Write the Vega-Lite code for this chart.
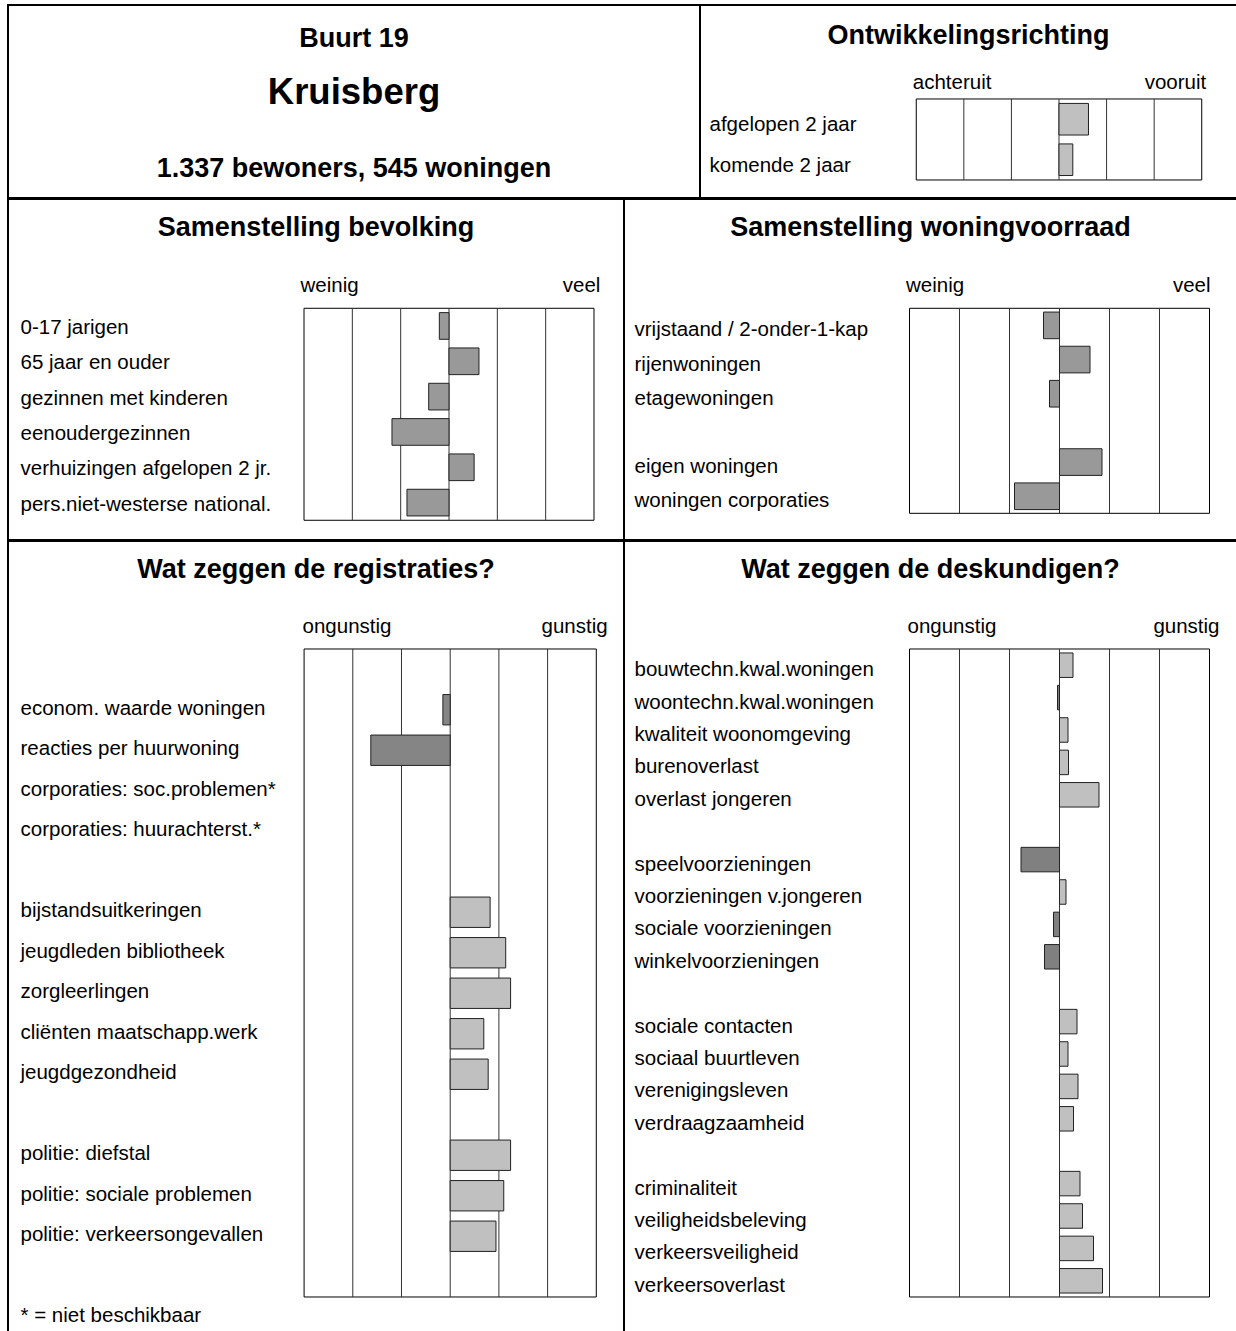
{
  "$schema": "https://vega.github.io/schema/vega-lite/v6.json",
  "padding": {"left": 7, "top": 4, "right": 0, "bottom": 0},
  "background": "white",
  "config": {
    "font": "Liberation Sans",
    "view": {"stroke": "#000", "strokeWidth": 2},
    "concat": {"spacing": 0},
    "title": {"font": "Liberation Sans", "fontSize": 27, "fontWeight": "bold", "color": "#000", "anchor": "middle", "frame": "group"},
    "axis": {"labelFont": "Liberation Sans", "labelFontSize": 20.5, "labelColor": "#000", "ticks": false, "tickSize": 0, "domain": false, "grid": false, "labelLimit": 0, "labelOverlap": false, "minExtent": 0, "title": null},
    "text": {"color": "#000", "font": "Liberation Sans"}
  },
  "datasets": {
    "kop": [
      {"regel": "buurt", "tekst": "Buurt 19"},
      {"regel": "naam", "tekst": "Kruisberg"},
      {"regel": "aantallen", "tekst": "1.337 bewoners, 545 woningen"}
    ],
    "kader": [{"van": -3, "tot": 3}],
    "grenzen": [{"grens": -2}, {"grens": -1}, {"grens": 0}, {"grens": 1}, {"grens": 2}],
    "ontwikkeling": [
      {"item": "afgelopen 2 jaar", "waarde": 0.62},
      {"item": "komende 2 jaar", "waarde": 0.29}
    ],
    "bevolking": [
      {"item": "0-17 jarigen", "waarde": -0.2},
      {"item": "65 jaar en ouder", "waarde": 0.62},
      {"item": "gezinnen met kinderen", "waarde": -0.42},
      {"item": "eenoudergezinnen", "waarde": -1.18},
      {"item": "verhuizingen afgelopen 2 jr.", "waarde": 0.52},
      {"item": "pers.niet-westerse national.", "waarde": -0.87}
    ],
    "woningvoorraad": [
      {"item": "vrijstaand / 2-onder-1-kap", "waarde": -0.32},
      {"item": "rijenwoningen", "waarde": 0.61},
      {"item": "etagewoningen", "waarde": -0.2},
      {"item": "eigen woningen", "waarde": 0.85},
      {"item": "woningen corporaties", "waarde": -0.9}
    ],
    "registraties": [
      {"item": "econom. waarde woningen", "waarde": -0.15},
      {"item": "reacties per huurwoning", "waarde": -1.63},
      {"item": "bijstandsuitkeringen", "waarde": 0.82},
      {"item": "jeugdleden bibliotheek", "waarde": 1.14},
      {"item": "zorgleerlingen", "waarde": 1.24},
      {"item": "cliënten maatschapp.werk", "waarde": 0.69},
      {"item": "jeugdgezondheid", "waarde": 0.78},
      {"item": "politie: diefstal", "waarde": 1.24},
      {"item": "politie: sociale problemen", "waarde": 1.1},
      {"item": "politie: verkeersongevallen", "waarde": 0.94}
    ],
    "deskundigen": [
      {"item": "bouwtechn.kwal.woningen", "waarde": 0.27},
      {"item": "woontechn.kwal.woningen", "waarde": -0.04},
      {"item": "kwaliteit woonomgeving", "waarde": 0.17},
      {"item": "burenoverlast", "waarde": 0.18},
      {"item": "overlast jongeren", "waarde": 0.79},
      {"item": "speelvoorzieningen", "waarde": -0.77},
      {"item": "voorzieningen v.jongeren", "waarde": 0.13},
      {"item": "sociale voorzieningen", "waarde": -0.12},
      {"item": "winkelvoorzieningen", "waarde": -0.3},
      {"item": "sociale contacten", "waarde": 0.35},
      {"item": "sociaal buurtleven", "waarde": 0.17},
      {"item": "verenigingsleven", "waarde": 0.37},
      {"item": "verdraagzaamheid", "waarde": 0.28},
      {"item": "criminaliteit", "waarde": 0.41},
      {"item": "veiligheidsbeleving", "waarde": 0.46},
      {"item": "verkeersveiligheid", "waarde": 0.68},
      {"item": "verkeersoverlast", "waarde": 0.86}
    ]
  },
  "vconcat": [
    {
      "hconcat": [
        {
          "width": 692, "height": 193,
          "data": {"name": "kop"},
          "encoding": {
            "y": {"field": "regel", "type": "nominal", "scale": {"type": "point", "domain": ["buurt", "naam", "aantallen"], "padding": 0.4846, "align": 0.671}, "axis": null},
            "text": {"field": "tekst", "type": "nominal"}
          },
          "layer": [
            {"transform": [{"filter": "datum.regel == 'buurt'"}], "mark": {"type": "text", "fontSize": 27, "fontWeight": "bold", "baseline": "alphabetic", "align": "center"}},
            {"transform": [{"filter": "datum.regel == 'naam'"}], "mark": {"type": "text", "fontSize": 36.5, "fontWeight": "bold", "baseline": "bottom", "align": "center"}},
            {"transform": [{"filter": "datum.regel == 'aantallen'"}], "mark": {"type": "text", "fontSize": 27, "fontWeight": "bold", "baseline": "alphabetic", "align": "center"}}
          ]
        },
        {
          "width": 537, "height": 193,
          "title": {"text": "Ontwikkelingsrichting", "offset": -45},
          "layer": [
            {
              "data": {"name": "kader"},
              "mark": {"type": "rect", "fillOpacity": 0, "stroke": "#000", "strokeWidth": 1},
              "encoding": {
                "x": {"field": "van", "type": "quantitative", "scale": {"domain": [-7.545, 3.741], "nice": false, "zero": false},
                  "axis": {"orient": "top", "offset": -94, "values": [-3, 3], "labelExpr": "datum.value < 0 ? 'achteruit' : 'vooruit'", "labelFlush": 300, "labelFlushOffset": 4, "labelPadding": 7}},
                "x2": {"field": "tot"},
                "y": {"datum": "afgelopen 2 jaar", "type": "nominal", "bandPosition": 0, "scale": {"type": "band", "domain": [" ", "afgelopen 2 jaar", "komende 2 jaar"], "paddingInner": 0, "paddingOuter": 0.8827, "align": 0.748},
                  "axis": {"orient": "left", "labelAlign": "left", "labelPadding": -9, "labelOffset": 6, "labelBaseline": "middle"}},
                "y2": {"datum": "komende 2 jaar", "bandPosition": 1}
              }
            },
            {
              "data": {"name": "grenzen"},
              "mark": {"type": "rule", "color": "#333", "strokeWidth": 1},
              "encoding": {
                "x": {"field": "grens", "type": "quantitative", "scale": {"domain": [-7.545, 3.741], "nice": false, "zero": false},
                  "axis": {"orient": "top", "offset": -94, "values": [-3, 3], "labelExpr": "datum.value < 0 ? 'achteruit' : 'vooruit'", "labelFlush": 300, "labelFlushOffset": 4, "labelPadding": 7}},
                "y": {"datum": "afgelopen 2 jaar", "type": "nominal", "bandPosition": 0, "scale": {"type": "band", "domain": [" ", "afgelopen 2 jaar", "komende 2 jaar"], "paddingInner": 0, "paddingOuter": 0.8827, "align": 0.748},
                  "axis": {"orient": "left", "labelAlign": "left", "labelPadding": -9, "labelOffset": 6, "labelBaseline": "middle"}},
                "y2": {"datum": "komende 2 jaar", "bandPosition": 1}
              }
            },
            {
              "data": {"name": "ontwikkeling"},
              "mark": {"type": "bar", "color": "#c0c0c0", "stroke": "#222", "strokeWidth": 1, "height": {"band": 0.78}},
              "encoding": {
                "x": {"field": "waarde", "type": "quantitative", "scale": {"domain": [-7.545, 3.741], "nice": false, "zero": false},
                  "axis": {"orient": "top", "offset": -94, "values": [-3, 3], "labelExpr": "datum.value < 0 ? 'achteruit' : 'vooruit'", "labelFlush": 300, "labelFlushOffset": 4, "labelPadding": 7}},
                "y": {"field": "item", "type": "nominal", "scale": {"type": "band", "domain": [" ", "afgelopen 2 jaar", "komende 2 jaar"], "paddingInner": 0, "paddingOuter": 0.8827, "align": 0.748},
                  "axis": {"orient": "left", "labelAlign": "left", "labelPadding": -9, "labelOffset": 6, "labelBaseline": "middle"}}
              }
            }
          ]
        }
      ],
      "spacing": 0, "bounds": "flush"
    },
    {
      "hconcat": [
        {
          "width": 616, "height": 341,
          "title": {"text": "Samenstelling bevolking", "offset": -43},
          "layer": [
            {
              "data": {"name": "kader"},
              "mark": {"type": "rect", "fillOpacity": 0, "stroke": "#000", "strokeWidth": 1},
              "encoding": {
                "x": {"field": "van", "type": "quantitative", "scale": {"domain": [-9.125, 3.621], "nice": false, "zero": false},
                  "axis": {"orient": "top", "offset": -109.3, "values": [-3, 3.04], "labelExpr": "datum.value < 0 ? 'weinig' : 'veel'", "labelFlush": 300, "labelFlushOffset": 4, "labelPadding": 13}},
                "x2": {"field": "tot"},
                "y": {"datum": "0-17 jarigen", "type": "nominal", "bandPosition": 0, "scale": {"type": "band", "domain": [" ", "  ", "0-17 jarigen", "65 jaar en ouder", "gezinnen met kinderen", "eenoudergezinnen", "verhuizingen afgelopen 2 jr.", "pers.niet-westerse national."], "paddingInner": 0, "paddingOuter": 0.826, "align": 0.662},
                  "axis": {"orient": "left", "labelAlign": "left", "labelPadding": -12, "labelOffset": 2, "labelBaseline": "middle"}},
                "y2": {"datum": "pers.niet-westerse national.", "bandPosition": 1}
              }
            },
            {
              "data": {"name": "grenzen"},
              "mark": {"type": "rule", "color": "#333", "strokeWidth": 1},
              "encoding": {
                "x": {"field": "grens", "type": "quantitative", "scale": {"domain": [-9.125, 3.621], "nice": false, "zero": false},
                  "axis": {"orient": "top", "offset": -109.3, "values": [-3, 3.04], "labelExpr": "datum.value < 0 ? 'weinig' : 'veel'", "labelFlush": 300, "labelFlushOffset": 4, "labelPadding": 13}},
                "y": {"datum": "0-17 jarigen", "type": "nominal", "bandPosition": 0, "scale": {"type": "band", "domain": [" ", "  ", "0-17 jarigen", "65 jaar en ouder", "gezinnen met kinderen", "eenoudergezinnen", "verhuizingen afgelopen 2 jr.", "pers.niet-westerse national."], "paddingInner": 0, "paddingOuter": 0.826, "align": 0.662},
                  "axis": {"orient": "left", "labelAlign": "left", "labelPadding": -12, "labelOffset": 2, "labelBaseline": "middle"}},
                "y2": {"datum": "pers.niet-westerse national.", "bandPosition": 1}
              }
            },
            {
              "data": {"name": "bevolking"},
              "mark": {"type": "bar", "color": "#999999", "stroke": "#222", "strokeWidth": 1, "height": {"band": 0.755}},
              "encoding": {
                "x": {"field": "waarde", "type": "quantitative", "scale": {"domain": [-9.125, 3.621], "nice": false, "zero": false},
                  "axis": {"orient": "top", "offset": -109.3, "values": [-3, 3.04], "labelExpr": "datum.value < 0 ? 'weinig' : 'veel'", "labelFlush": 300, "labelFlushOffset": 4, "labelPadding": 13}},
                "y": {"field": "item", "type": "nominal", "scale": {"type": "band", "domain": [" ", "  ", "0-17 jarigen", "65 jaar en ouder", "gezinnen met kinderen", "eenoudergezinnen", "verhuizingen afgelopen 2 jr.", "pers.niet-westerse national."], "paddingInner": 0, "paddingOuter": 0.826, "align": 0.662},
                  "axis": {"orient": "left", "labelAlign": "left", "labelPadding": -12, "labelOffset": 2, "labelBaseline": "middle"}}
              }
            }
          ]
        },
        {
          "width": 613, "height": 341,
          "title": {"text": "Samenstelling woningvoorraad", "offset": -43},
          "layer": [
            {
              "data": {"name": "kader"},
              "mark": {"type": "rect", "fillOpacity": 0, "stroke": "#000", "strokeWidth": 1},
              "encoding": {
                "x": {"field": "van", "type": "quantitative", "scale": {"domain": [-8.71, 3.55], "nice": false, "zero": false},
                  "axis": {"orient": "top", "offset": -109.3, "values": [-3, 2.93], "labelExpr": "datum.value < 0 ? 'weinig' : 'veel'", "labelFlush": 300, "labelFlushOffset": 4, "labelPadding": 13}},
                "x2": {"field": "tot"},
                "y": {"datum": "vrijstaand / 2-onder-1-kap", "type": "nominal", "bandPosition": 0, "scale": {"type": "band", "domain": ["  ", "   ", "vrijstaand / 2-onder-1-kap", "rijenwoningen", "etagewoningen", " ", "eigen woningen", "woningen corporaties"], "paddingInner": 0, "paddingOuter": 0.99, "align": 0.6056},
                  "axis": {"orient": "left", "labelAlign": "left", "labelPadding": -10, "labelOffset": 5, "labelBaseline": "middle"}},
                "y2": {"datum": "woningen corporaties", "bandPosition": 1}
              }
            },
            {
              "data": {"name": "grenzen"},
              "mark": {"type": "rule", "color": "#333", "strokeWidth": 1},
              "encoding": {
                "x": {"field": "grens", "type": "quantitative", "scale": {"domain": [-8.71, 3.55], "nice": false, "zero": false},
                  "axis": {"orient": "top", "offset": -109.3, "values": [-3, 2.93], "labelExpr": "datum.value < 0 ? 'weinig' : 'veel'", "labelFlush": 300, "labelFlushOffset": 4, "labelPadding": 13}},
                "y": {"datum": "vrijstaand / 2-onder-1-kap", "type": "nominal", "bandPosition": 0, "scale": {"type": "band", "domain": ["  ", "   ", "vrijstaand / 2-onder-1-kap", "rijenwoningen", "etagewoningen", " ", "eigen woningen", "woningen corporaties"], "paddingInner": 0, "paddingOuter": 0.99, "align": 0.6056},
                  "axis": {"orient": "left", "labelAlign": "left", "labelPadding": -10, "labelOffset": 5, "labelBaseline": "middle"}},
                "y2": {"datum": "woningen corporaties", "bandPosition": 1}
              }
            },
            {
              "data": {"name": "woningvoorraad"},
              "mark": {"type": "bar", "color": "#999999", "stroke": "#222", "strokeWidth": 1, "height": {"band": 0.78}},
              "encoding": {
                "x": {"field": "waarde", "type": "quantitative", "scale": {"domain": [-8.71, 3.55], "nice": false, "zero": false},
                  "axis": {"orient": "top", "offset": -109.3, "values": [-3, 2.93], "labelExpr": "datum.value < 0 ? 'weinig' : 'veel'", "labelFlush": 300, "labelFlushOffset": 4, "labelPadding": 13}},
                "y": {"field": "item", "type": "nominal", "scale": {"type": "band", "domain": ["  ", "   ", "vrijstaand / 2-onder-1-kap", "rijenwoningen", "etagewoningen", " ", "eigen woningen", "woningen corporaties"], "paddingInner": 0, "paddingOuter": 0.99, "align": 0.6056},
                  "axis": {"orient": "left", "labelAlign": "left", "labelPadding": -10, "labelOffset": 5, "labelBaseline": "middle"}}
              }
            }
          ]
        }
      ],
      "spacing": 0, "bounds": "flush"
    },
    {
      "hconcat": [
        {
          "width": 616, "height": 800,
          "title": {"text": "Wat zeggen de registraties?", "offset": -43},
          "layer": [
            {
              "data": {"name": "kader"},
              "mark": {"type": "rect", "fillOpacity": 0, "stroke": "#000", "strokeWidth": 1},
              "encoding": {
                "x": {"field": "van", "type": "quantitative", "scale": {"domain": [-9.08, 3.569], "nice": false, "zero": false},
                  "axis": {"orient": "top", "offset": -108, "values": [-2.96, 3.14], "labelExpr": "datum.value < 0 ? 'ongunstig' : 'gunstig'", "labelFlush": 300, "labelFlushOffset": 4, "labelPadding": 12.7}},
                "x2": {"field": "tot"},
                "y": {"datum": " ", "type": "nominal", "bandPosition": 0, "scale": {"type": "band", "domain": ["     ", "      ", " ", "econom. waarde woningen", "reacties per huurwoning", "corporaties: soc.problemen*", "corporaties: huurachterst.*", "  ", "bijstandsuitkeringen", "jeugdleden bibliotheek", "zorgleerlingen", "cliënten maatschapp.werk", "jeugdgezondheid", "   ", "politie: diefstal", "politie: sociale problemen", "politie: verkeersongevallen", "    ", "* = niet beschikbaar"], "paddingInner": 0, "paddingOuter": 0.3765, "align": 0.885},
                  "axis": {"orient": "left", "labelAlign": "left", "labelPadding": -12, "labelOffset": -1, "labelBaseline": "middle"}},
                "y2": {"datum": "    ", "bandPosition": 1}
              }
            },
            {
              "data": {"name": "grenzen"},
              "mark": {"type": "rule", "color": "#333", "strokeWidth": 1},
              "encoding": {
                "x": {"field": "grens", "type": "quantitative", "scale": {"domain": [-9.08, 3.569], "nice": false, "zero": false},
                  "axis": {"orient": "top", "offset": -108, "values": [-2.96, 3.14], "labelExpr": "datum.value < 0 ? 'ongunstig' : 'gunstig'", "labelFlush": 300, "labelFlushOffset": 4, "labelPadding": 12.7}},
                "y": {"datum": " ", "type": "nominal", "bandPosition": 0, "scale": {"type": "band", "domain": ["     ", "      ", " ", "econom. waarde woningen", "reacties per huurwoning", "corporaties: soc.problemen*", "corporaties: huurachterst.*", "  ", "bijstandsuitkeringen", "jeugdleden bibliotheek", "zorgleerlingen", "cliënten maatschapp.werk", "jeugdgezondheid", "   ", "politie: diefstal", "politie: sociale problemen", "politie: verkeersongevallen", "    ", "* = niet beschikbaar"], "paddingInner": 0, "paddingOuter": 0.3765, "align": 0.885},
                  "axis": {"orient": "left", "labelAlign": "left", "labelPadding": -12, "labelOffset": -1, "labelBaseline": "middle"}},
                "y2": {"datum": "    ", "bandPosition": 1}
              }
            },
            {
              "data": {"name": "registraties"},
              "mark": {"type": "bar", "stroke": "#222", "strokeWidth": 1, "height": {"band": 0.75}},
              "encoding": {
                "x": {"field": "waarde", "type": "quantitative", "scale": {"domain": [-9.08, 3.569], "nice": false, "zero": false},
                  "axis": {"orient": "top", "offset": -108, "values": [-2.96, 3.14], "labelExpr": "datum.value < 0 ? 'ongunstig' : 'gunstig'", "labelFlush": 300, "labelFlushOffset": 4, "labelPadding": 12.7}},
                "y": {"field": "item", "type": "nominal", "scale": {"type": "band", "domain": ["     ", "      ", " ", "econom. waarde woningen", "reacties per huurwoning", "corporaties: soc.problemen*", "corporaties: huurachterst.*", "  ", "bijstandsuitkeringen", "jeugdleden bibliotheek", "zorgleerlingen", "cliënten maatschapp.werk", "jeugdgezondheid", "   ", "politie: diefstal", "politie: sociale problemen", "politie: verkeersongevallen", "    ", "* = niet beschikbaar"], "paddingInner": 0, "paddingOuter": 0.3765, "align": 0.885},
                  "axis": {"orient": "left", "labelAlign": "left", "labelPadding": -12, "labelOffset": -1, "labelBaseline": "middle"}},
                "color": {"condition": {"test": "datum.waarde < 0", "value": "#858585"}, "value": "#c0c0c0"}
              }
            }
          ]
        },
        {
          "width": 613, "height": 800,
          "title": {"text": "Wat zeggen de deskundigen?", "offset": -43},
          "layer": [
            {
              "data": {"name": "kader"},
              "mark": {"type": "rect", "fillOpacity": 0, "stroke": "#000", "strokeWidth": 1},
              "encoding": {
                "x": {"field": "van", "type": "quantitative", "scale": {"domain": [-8.71, 3.55], "nice": false, "zero": false},
                  "axis": {"orient": "top", "offset": -108, "values": [-2.97, 3.11], "labelExpr": "datum.value < 0 ? 'ongunstig' : 'gunstig'", "labelFlush": 300, "labelFlushOffset": 4, "labelPadding": 12.7}},
                "x2": {"field": "tot"},
                "y": {"datum": "bouwtechn.kwal.woningen", "type": "nominal", "bandPosition": 0, "scale": {"type": "band", "domain": ["    ", "     ", "      ", "bouwtechn.kwal.woningen", "woontechn.kwal.woningen", "kwaliteit woonomgeving", "burenoverlast", "overlast jongeren", " ", "speelvoorzieningen", "voorzieningen v.jongeren", "sociale voorzieningen", "winkelvoorzieningen", "  ", "sociale contacten", "sociaal buurtleven", "verenigingsleven", "verdraagzaamheid", "   ", "criminaliteit", "veiligheidsbeleving", "verkeersveiligheid", "verkeersoverlast"], "paddingInner": 0, "paddingOuter": 0.8457, "align": 0.197},
                  "axis": {"orient": "left", "labelAlign": "left", "labelPadding": -10, "labelOffset": 5, "labelBaseline": "middle"}},
                "y2": {"datum": "verkeersoverlast", "bandPosition": 1}
              }
            },
            {
              "data": {"name": "grenzen"},
              "mark": {"type": "rule", "color": "#333", "strokeWidth": 1},
              "encoding": {
                "x": {"field": "grens", "type": "quantitative", "scale": {"domain": [-8.71, 3.55], "nice": false, "zero": false},
                  "axis": {"orient": "top", "offset": -108, "values": [-2.97, 3.11], "labelExpr": "datum.value < 0 ? 'ongunstig' : 'gunstig'", "labelFlush": 300, "labelFlushOffset": 4, "labelPadding": 12.7}},
                "y": {"datum": "bouwtechn.kwal.woningen", "type": "nominal", "bandPosition": 0, "scale": {"type": "band", "domain": ["    ", "     ", "      ", "bouwtechn.kwal.woningen", "woontechn.kwal.woningen", "kwaliteit woonomgeving", "burenoverlast", "overlast jongeren", " ", "speelvoorzieningen", "voorzieningen v.jongeren", "sociale voorzieningen", "winkelvoorzieningen", "  ", "sociale contacten", "sociaal buurtleven", "verenigingsleven", "verdraagzaamheid", "   ", "criminaliteit", "veiligheidsbeleving", "verkeersveiligheid", "verkeersoverlast"], "paddingInner": 0, "paddingOuter": 0.8457, "align": 0.197},
                  "axis": {"orient": "left", "labelAlign": "left", "labelPadding": -10, "labelOffset": 5, "labelBaseline": "middle"}},
                "y2": {"datum": "verkeersoverlast", "bandPosition": 1}
              }
            },
            {
              "data": {"name": "deskundigen"},
              "mark": {"type": "bar", "stroke": "#222", "strokeWidth": 1, "height": {"band": 0.756}},
              "encoding": {
                "x": {"field": "waarde", "type": "quantitative", "scale": {"domain": [-8.71, 3.55], "nice": false, "zero": false},
                  "axis": {"orient": "top", "offset": -108, "values": [-2.97, 3.11], "labelExpr": "datum.value < 0 ? 'ongunstig' : 'gunstig'", "labelFlush": 300, "labelFlushOffset": 4, "labelPadding": 12.7}},
                "y": {"field": "item", "type": "nominal", "scale": {"type": "band", "domain": ["    ", "     ", "      ", "bouwtechn.kwal.woningen", "woontechn.kwal.woningen", "kwaliteit woonomgeving", "burenoverlast", "overlast jongeren", " ", "speelvoorzieningen", "voorzieningen v.jongeren", "sociale voorzieningen", "winkelvoorzieningen", "  ", "sociale contacten", "sociaal buurtleven", "verenigingsleven", "verdraagzaamheid", "   ", "criminaliteit", "veiligheidsbeleving", "verkeersveiligheid", "verkeersoverlast"], "paddingInner": 0, "paddingOuter": 0.8457, "align": 0.197},
                  "axis": {"orient": "left", "labelAlign": "left", "labelPadding": -10, "labelOffset": 5, "labelBaseline": "middle"}},
                "color": {"condition": {"test": "datum.waarde < 0", "value": "#808080"}, "value": "#c0c0c0"}
              }
            }
          ]
        }
      ],
      "spacing": 0, "bounds": "flush"
    }
  ],
  "spacing": -3
}
